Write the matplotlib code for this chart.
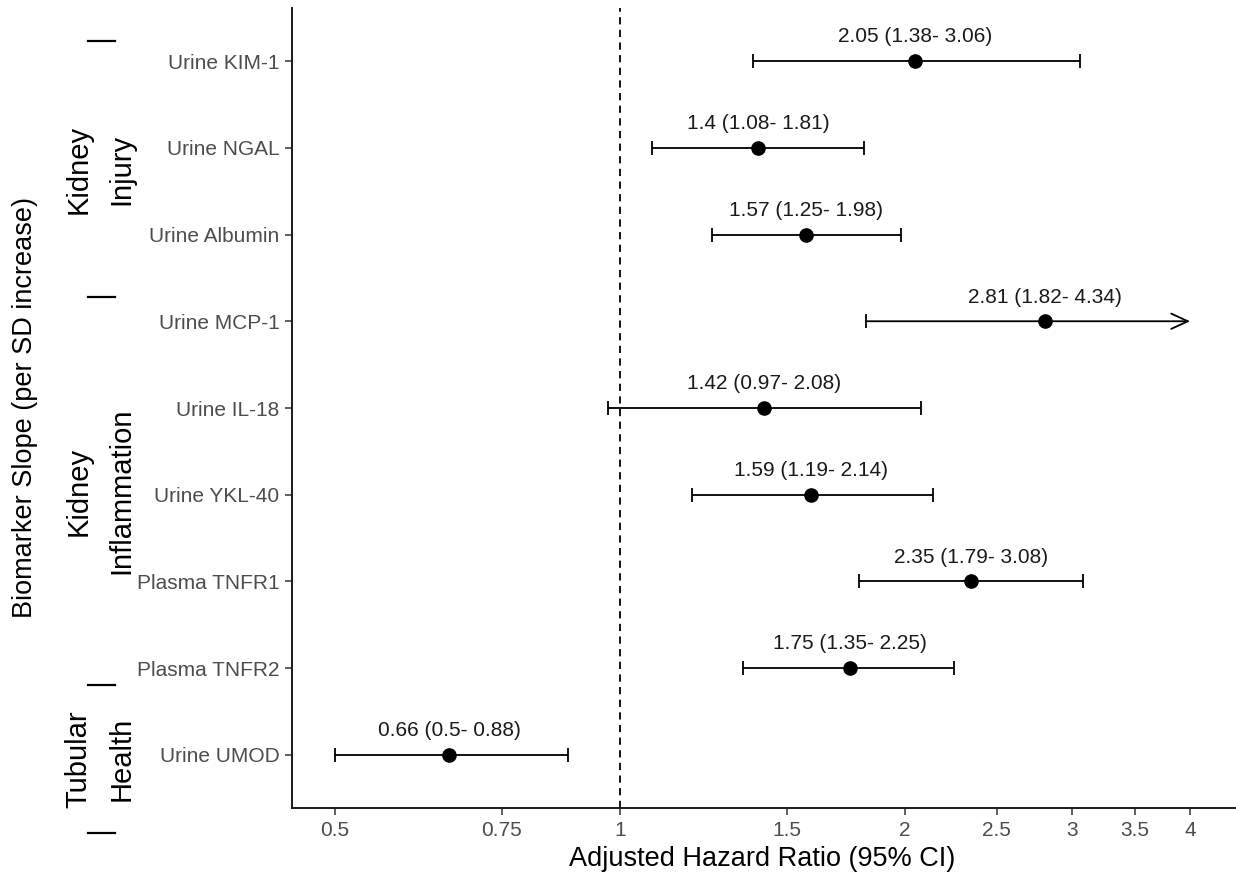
import numpy as np
import matplotlib
matplotlib.use("Agg")
from matplotlib import pyplot as plt
from matplotlib.ticker import FixedLocator, NullLocator

plt.rcParams['font.family'] = ['Liberation Sans', 'DejaVu Sans']

# DATA
biomarkers = ["Urine KIM-1", "Urine NGAL", "Urine Albumin", "Urine MCP-1", "Urine IL-18",
              "Urine YKL-40", "Plasma TNFR1", "Plasma TNFR2", "Urine UMOD"]
hazard_ratio = [2.05, 1.4, 1.57, 2.81, 1.42, 1.59, 2.35, 1.75, 0.66]
ci_lower = [1.38, 1.08, 1.25, 1.82, 0.97, 1.19, 1.79, 1.35, 0.5]
ci_upper = [3.06, 1.81, 1.98, 4.34, 2.08, 2.14, 3.08, 2.25, 0.88]
x_ticks = [0.5, 0.75, 1, 1.5, 2, 2.5, 3, 3.5, 4]
x_tick_labels = ["0.5", "0.75", "1", "1.5", "2", "2.5", "3", "3.5", "4"]
groups = ["Kidney\nInjury", "Kidney\nInflammation", "Tubular\nHealth"]
ci_clip = 4  # upper CI drawn as arrow beyond this

# group bracket positions (y in data units)
bracket_y = [9.23, 6.28, 1.807, 0.101]

n = len(biomarkers)
y_pos = np.arange(n, 0, -1)

fig = plt.figure(figsize=(12.36, 8.75), dpi=100)
ax = fig.add_axes([292 / 1236, 67 / 875, 944 / 1236, 800 / 875])

ink = "black"
for y, hr, lo, up in zip(y_pos, hazard_ratio, ci_lower, ci_upper):
    if up > ci_clip:
        ax.annotate("", xy=(ci_clip, y), xytext=(lo, y),
                    arrowprops=dict(arrowstyle="->,head_length=1.2,head_width=0.55",
                                    lw=1.3, color=ink, shrinkA=0, shrinkB=0))
        ax.plot([lo], [y], marker="|", markersize=10, mew=1.3, color=ink)
    else:
        ax.errorbar([hr], [y], xerr=[[hr - lo], [up - hr]], fmt="none",
                    ecolor=ink, elinewidth=1.3, capsize=5, capthick=1.3)
    ax.plot([hr], [y], "o", color=ink, markersize=9.5, zorder=3)
    ax.text(hr, y + 0.17, f"{hr} ({lo}- {up})", ha="center", va="bottom",
            fontsize=15, color="#1a1a1a")

ax.axvline(1, color=ink, lw=1.3, linestyle=(0, (4, 3)), zorder=1)

ax.set_xscale("log")
ax.set_xlim(0.4502, 4.473)
ax.set_ylim(0.389, 9.611)
ax.xaxis.set_major_locator(FixedLocator(x_ticks))
ax.xaxis.set_minor_locator(NullLocator())
ax.set_xticklabels(x_tick_labels)
ax.set_yticks(y_pos)
ax.set_yticklabels(biomarkers)
ax.tick_params(axis="both", colors="#333333", labelcolor="#4d4d4d", labelsize=15,
               length=5, width=1.1)
ax.tick_params(axis="y", pad=4)
ax.tick_params(axis="x", pad=4)
for side in ["top", "right"]:
    ax.spines[side].set_visible(False)
for side in ["left", "bottom"]:
    ax.spines[side].set_linewidth(1.4)
    ax.spines[side].set_color("#1a1a1a")

# group brackets and labels
trans = ax.get_yaxis_transform()
for by in bracket_y:
    ax.plot([-0.2161, -0.1875], [by, by], color=ink, lw=1.6, transform=trans, clip_on=False)
for g, (y0, y1) in zip(groups, zip(bracket_y[:-1], bracket_y[1:])):
    ax.text(-0.2034, (y0 + y1) / 2, g, rotation=90, ha="center", va="center",
            fontsize=21, color=ink, transform=trans, linespacing=1.65)

fig.text(25 / 1236, 1 - 408 / 875, "Biomarker Slope (per SD increase)", rotation=90,
         ha="center", va="center", fontsize=19.5, color=ink)
fig.text(762 / 1236, 1 - 859 / 875, "Adjusted Hazard Ratio (95% CI)",
         ha="center", va="center", fontsize=19.5, color=ink)

fig.savefig("out.png", dpi=100, facecolor="white")
